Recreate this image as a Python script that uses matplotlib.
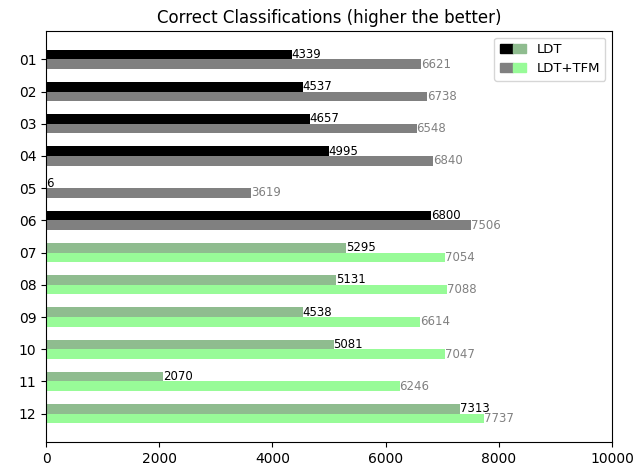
import matplotlib
matplotlib.use("Agg")
import matplotlib.pyplot as plt
from matplotlib.patches import Patch
from matplotlib.legend_handler import HandlerTuple
import numpy as np

categories = ["01", "02", "03", "04", "05", "06", "07", "08", "09", "10", "11", "12"]
ldt = [4339, 4537, 4657, 4995, 6, 6800, 5295, 5131, 4538, 5081, 2070, 7313]
ldt_tfm = [6621, 6738, 6548, 6840, 3619, 7506, 7054, 7088, 6614, 7047, 6246, 7737]
x_ticks = [0, 2000, 4000, 6000, 8000, 10000]

# first six rows use the dark palette, the rest use the green palette
ldt_colors = ["black"] * 6 + ["darkseagreen"] * 6
tfm_colors = ["gray"] * 6 + ["palegreen"] * 6

fig, ax = plt.subplots(figsize=(6.33, 4.68), dpi=100)
y = np.arange(len(categories))
h = 0.3

ax.barh(y - h / 2, ldt, height=h, color=ldt_colors)
ax.barh(y + h / 2, ldt_tfm, height=h, color=tfm_colors)

for yi, v in zip(y, ldt):
    ax.text(v, yi - h / 2, str(v), va="center", ha="left", fontsize=8.5, color="black")
for yi, v in zip(y, ldt_tfm):
    ax.text(v, yi + h / 2, str(v), va="center", ha="left", fontsize=8.5, color="gray")

ax.set_yticks(y)
ax.set_yticklabels(categories)
ax.invert_yaxis()
ax.set_xlim(0, 10000)
ax.set_xticks(x_ticks)
ax.set_title("Correct Classifications (higher the better)")

handles = [
    (Patch(color="black"), Patch(color="darkseagreen")),
    (Patch(color="gray"), Patch(color="palegreen")),
]
ax.legend(handles, ["LDT", "LDT+TFM"], loc="upper right", fontsize=9.5,
          handler_map={tuple: HandlerTuple(ndivide=None, pad=0)})

fig.subplots_adjust(left=0.0727, right=0.9668, top=0.9338, bottom=0.0556)
fig.savefig("out.png", dpi=100)
